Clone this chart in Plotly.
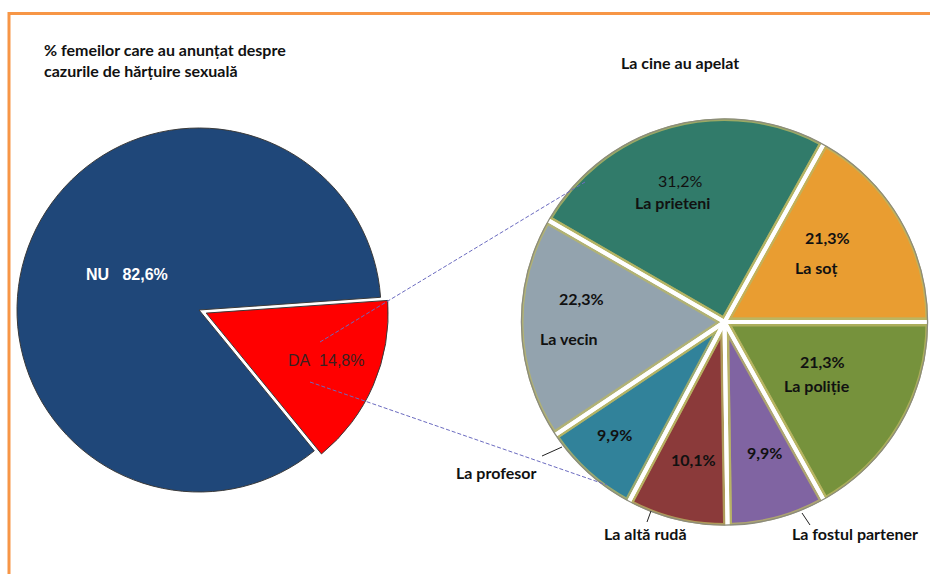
import plotly.graph_objects as go

W, H = 930, 574

# ---------------- data ----------------
left_labels = ["DA", "NU"]
left_values = [14.8, 82.6]
left_colors = ["#FF0000", "#1F4779"]

right_labels = ["La prieteni", "La soț", "La poliție", "La fostul partener",
                "La altă rudă", "La profesor", "La vecin"]
right_values = [31.2, 21.3, 21.3, 9.9, 10.1, 9.9, 22.3]
right_colors = ["#317B6A", "#E99D31", "#76923C", "#8064A2",
                "#8B3A3A", "#31829A", "#93A3AE"]

title_left = "% femeilor care au anunțat despre<br>cazurile de hărțuire sexuală"
title_right = "La cine au apelat"


def fx(x):  # px -> paper
    return x / W


def fy(y):
    return 1 - y / H


def pct(v):
    return f"{v:.1f}".replace(".", ",") + "%"


fig = go.Figure()

# left pie: centre (199,310), r=182, pull 0.043
lp = 0.043
lcx, lcy = 199, 310
lr = 182 * (1 + lp)
fig.add_trace(go.Pie(
    labels=left_labels, values=left_values, sort=False, direction="clockwise",
    rotation=86, pull=[lp, 0], textinfo="none", hoverinfo="label+value",
    marker=dict(colors=left_colors, line=dict(color="#3A3A3A", width=1)),
    domain=dict(x=[fx(lcx - lr), fx(lcx + lr)], y=[fy(lcy + lr), fy(lcy - lr)]),
    showlegend=False,
))

# right pie: fills the box from x=519 to the right edge, centred at y=322
rx0, rx1 = 519, 930
rcx, rr = (rx0 + rx1) / 2, (rx1 - rx0) / 2
rcy = 322
rdom = dict(x=[fx(rx0), 1], y=[fy(rcy + rr), fy(rcy - rr)])
# coloured slices with a soft olive glow on the edges
fig.add_trace(go.Pie(
    labels=right_labels, values=right_values, sort=False, direction="clockwise",
    rotation=-60, textinfo="none", hoverinfo="label+value",
    marker=dict(colors=right_colors, line=dict(color="rgba(186,182,100,0.78)", width=9)),
    domain=rdom, showlegend=False,
))
# white separators on top
fig.add_trace(go.Pie(
    labels=right_labels, values=right_values, sort=False, direction="clockwise",
    rotation=-60, textinfo="none", hoverinfo="skip",
    marker=dict(colors=["rgba(0,0,0,0)"] * len(right_values),
                line=dict(color="white", width=4)),
    domain=rdom, showlegend=False,
))

ann = []
FONT = "Lato, 'Open Sans', sans-serif"
ARIAL = "'Liberation Sans', Arial, sans-serif"
NB = "\u00a0"

# titles
ann.append(dict(x=fx(42), y=fy(60), xanchor="left", yanchor="middle", align="left",
                text=f"<b>{title_left}</b>", font=dict(family=FONT, size=16, color="#111")))
ann.append(dict(x=fx(680), y=fy(63), xanchor="center", yanchor="middle",
                text=f"<b>{title_right}</b>", font=dict(family=FONT, size=16, color="#111")))

# left labels
ann.append(dict(x=fx(127), y=fy(274), text=f"<b>{left_labels[1]}{NB*3}{pct(left_values[1])}</b>",
                font=dict(family=ARIAL, size=16, color="white")))
ann.append(dict(x=fx(326), y=fy(360), text=f"{left_labels[0]}{NB*2}{pct(left_values[0])}",
                font=dict(family=ARIAL, size=16, color="#3A2020")))

# right labels: (pct pos, label pos, bold pct)
pos = {
    0: ((680, 181), (672, 202), False),
    1: ((827, 237), (816, 267), True),
    2: ((822, 361), (817, 385), True),
    3: ((764, 452), (855, 533), True),
    4: ((693, 459), (645, 533), True),
    5: ((614, 434), (496, 472), True),
    6: ((581, 298), (568, 338), True),
}
for i, (ppos, lpos, bold) in pos.items():
    t = pct(right_values[i])
    ann.append(dict(x=fx(ppos[0]), y=fy(ppos[1]), text=f"<b>{t}</b>" if bold else t,
                    font=dict(family=FONT, size=16, color="#111")))
    ann.append(dict(x=fx(lpos[0]), y=fy(lpos[1]), text=f"<b>{right_labels[i]}</b>",
                    font=dict(family=FONT, size=16, color="#111")))

for a in ann:
    a.setdefault("xref", "paper")
    a.setdefault("yref", "paper")
    a.setdefault("showarrow", False)
    a.setdefault("xanchor", "center")
    a.setdefault("yanchor", "middle")


def circle(cx, cy, rad, color, width):
    return dict(type="circle", xref="paper", yref="paper",
                x0=fx(cx - rad), x1=fx(cx + rad), y0=fy(cy + rad), y1=fy(cy - rad),
                line=dict(color=color, width=width), layer="above")


shapes = [
    # orange frame (right and bottom edges are outside the picture)
    dict(type="rect", xref="paper", yref="paper", x0=fx(9), y0=fy(13.5), x1=1.05, y1=-0.1,
         line=dict(color="#F79646", width=3), layer="below"),
    # hide the glow outside the right pie and draw its thin grey rim
    circle(rcx, rcy, rr + 3.5, "white", 7),
    circle(rcx, rcy, rr - 2.4, "#8C8C7C", 1.3),
]
# dashed connector lines
for (x0, y0, x1, y1) in [(320, 342, 585, 182), (310, 382, 607, 485)]:
    shapes.append(dict(type="line", xref="paper", yref="paper", x0=fx(x0), y0=fy(y0),
                       x1=fx(x1), y1=fy(y1),
                       line=dict(color="#6B6BC0", width=1, dash="4px,2px")))
# leader lines
for (x0, y0, x1, y1) in [(542, 456, 562, 447), (651, 511, 647, 522), (802, 513, 810, 525)]:
    shapes.append(dict(type="line", xref="paper", yref="paper", x0=fx(x0), y0=fy(y0),
                       x1=fx(x1), y1=fy(y1), line=dict(color="#222", width=1)))

fig.update_layout(
    width=W, height=H, margin=dict(l=0, r=0, t=0, b=0),
    paper_bgcolor="white", plot_bgcolor="white",
    annotations=ann, shapes=shapes, showlegend=False,
)

# remove the browser's default 8px page margin so the figure fills the window
fig.write_html("out.html", config={"displayModeBar": False},
               post_script="document.body.style.margin='0';")
